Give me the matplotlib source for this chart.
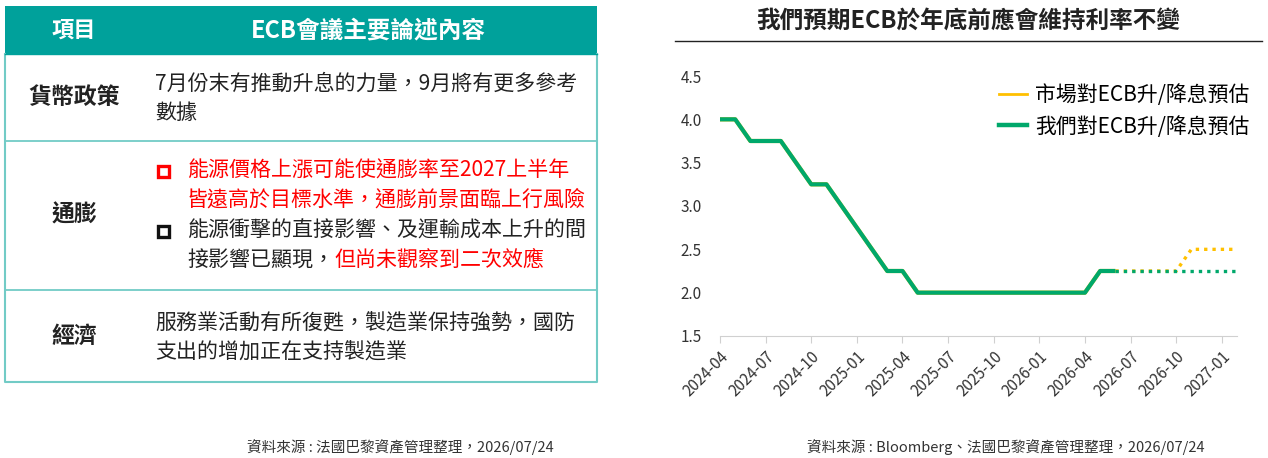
import matplotlib
matplotlib.use("Agg")
import matplotlib.pyplot as plt
from matplotlib.patches import Rectangle
from matplotlib.lines import Line2D

plt.rcParams['font.family'] = ['Noto Sans CJK TC', 'DejaVu Sans']

# ---- data ----
months = ['2024-04', '2024-05', '2024-06', '2024-07', '2024-08', '2024-09',
          '2024-10', '2024-11', '2024-12', '2025-01', '2025-02', '2025-03',
          '2025-04', '2025-05', '2025-06', '2025-07', '2025-08', '2025-09',
          '2025-10', '2025-11', '2025-12', '2026-01', '2026-02', '2026-03',
          '2026-04', '2026-05', '2026-06', '2026-07', '2026-08', '2026-09',
          '2026-10', '2026-11', '2026-12', '2027-01', '2027-02']
actual_rate = [4.0, 4.0, 3.75, 3.75, 3.75, 3.5, 3.25, 3.25, 3.0, 2.75, 2.5,
               2.25, 2.25, 2.0, 2.0, 2.0, 2.0, 2.0, 2.0, 2.0, 2.0, 2.0, 2.0,
               2.0, 2.0, 2.25, 2.25]
market_fcst = [2.25, 2.25, 2.25, 2.25, 2.25, 2.5, 2.5, 2.5, 2.5]
our_fcst = [2.25, 2.25, 2.25, 2.25, 2.25, 2.25, 2.25, 2.25, 2.25]
tick_labels = months[::3]

table_header = ['項目', 'ECB會議主要論述內容']
row_labels = ['貨幣政策', '通膨', '經濟']
row1_lines = ['7月份末有推動升息的力量，9月將有更多參考', '數據']
row2_red = ['能源價格上漲可能使通膨率至2027上半年', '皆遠高於目標水準，通膨前景面臨上行風險']
row2_black = ['能源衝擊的直接影響、及運輸成本上升的間', '接影響已顯現，']
row2_red_tail = '但尚未觀察到二次效應'
row3_lines = ['服務業活動有所復甦，製造業保持強勢，國防', '支出的增加正在支持製造業']

GREEN = '#00A86B'
YELLOW = '#FFC000'
TEAL = '#00A19B'
LINE_TEAL = '#72CBC6'
RED = '#FF0000'
TXT = '#222222'

W, H = 1268, 458
fig = plt.figure(figsize=(W / 100, H / 100), dpi=100)

# ---- chart ----
x_all = list(range(len(months)))
n_act = len(actual_rate)
x_act = x_all[:n_act]
x_fc = x_all[n_act - 1:n_act - 1 + len(our_fcst)]

ax = fig.add_axes([720 / W, 1 - 336 / H, (1237 - 720) / W, (336 - 76) / H])
ax.plot(x_act, actual_rate, color=YELLOW, lw=3, solid_capstyle='butt', zorder=2)
ax.plot(x_fc, market_fcst, color=YELLOW, lw=2.4, ls=(0, (1, 1.5)), zorder=2)
ax.plot(x_act, actual_rate, color=GREEN, lw=3, solid_capstyle='butt', zorder=3)
ax.plot(x_fc, our_fcst, color=GREEN, lw=2.4, ls=(0, (1, 1.5)), zorder=3)

ax.set_xlim(0, len(months) - 1)
ax.set_ylim(1.5, 4.5)
ax.set_yticks([1.5, 2.0, 2.5, 3.0, 3.5, 4.0, 4.5])
ax.set_yticklabels([f'{v:.1f}' for v in ax.get_yticks()])
ax.set_xticks(x_all[::3])
ax.set_xticklabels(tick_labels, rotation=45, ha='right', rotation_mode='anchor')
ax.tick_params(axis='x', length=5, color='#D0D0D0', labelsize=11, labelcolor='#333333', pad=4)
ax.tick_params(axis='y', length=0, labelsize=11, labelcolor='#333333', pad=13)
for s in ['top', 'right', 'left']:
    ax.spines[s].set_visible(False)
ax.spines['bottom'].set_color('#D0D0D0')

handles = [Line2D([], [], color=YELLOW, lw=2),
           Line2D([], [], color=GREEN, lw=3.2)]
ax.legend(handles, ['市場對ECB升/降息預估', '我們對ECB升/降息預估'],
          loc='upper right', bbox_to_anchor=(1.06, 1.04), frameon=False,
          fontsize=15, handlelength=1.3, handletextpad=0.4, labelspacing=0.45)

# ---- overlay for table, title and notes (pixel coords) ----
ov = fig.add_axes([0, 0, 1, 1], zorder=-1)
ov.set_xlim(0, W)
ov.set_ylim(H, 0)
ov.axis('off')

ov.text(968, 22, '我們預期ECB於年底前應會維持利率不變', ha='center', va='center',
        fontsize=17, fontweight='bold', color=TXT)
ov.plot([675, 1262], [41, 41], color='#222222', lw=1)

# table
left, right, top = 4.5, 596.5, 5.5
y_head, y_r1, y_r2, y_bot = 54, 141, 290, 382
ov.add_patch(Rectangle((left, top), right - left, y_head - top, color=TEAL, lw=0))
for yy in [y_r1, y_r2]:
    ov.plot([left, right], [yy, yy], color=LINE_TEAL, lw=1.3)
ov.plot([left, left, right, right], [y_head, y_bot, y_bot, y_head], color=LINE_TEAL, lw=1.5)
ov.plot([left, right], [y_head, y_head], color=TEAL, lw=1)

ov.text(74, 30, table_header[0], ha='center', va='center', fontsize=16,
        fontweight='bold', color='white')
ov.text(368, 30, table_header[1], ha='center', va='center', fontsize=17,
        fontweight='bold', color='white')

label_y = [98, 215, 336]
for lab, yy in zip(row_labels, label_y):
    ov.text(74, yy, lab, ha='center', va='center', fontsize=16.5, fontweight='bold', color=TXT)

fs = 15.1
for i, line in enumerate(row1_lines):
    ov.text(155, 84 + 29 * i, line, ha='left', va='center', fontsize=fs, color=TXT)

for i, line in enumerate(row2_red):
    ov.text(187, 171 + 29 * i, line, ha='left', va='center', fontsize=fs, color=RED)
ov.text(187, 231, row2_black[0], ha='left', va='center', fontsize=fs, color=TXT)
t_last = ov.text(187, 260, row2_black[1], ha='left', va='center', fontsize=fs, color=TXT)
ov.annotate(row2_red_tail, xy=(1, 0), xycoords=t_last, ha='left', va='bottom',
            fontsize=fs, color=RED)
ov.add_patch(Rectangle((157.5, 165.5), 11, 11, fill=False, ec=RED, lw=2.4))
ov.add_patch(Rectangle((157.5, 225.5), 11, 11, fill=False, ec='#111111', lw=2.4))

for i, line in enumerate(row3_lines):
    ov.text(155, 324 + 29 * i, line, ha='left', va='center', fontsize=fs, color=TXT)

# sources
ov.text(400, 447, '資料來源 : 法國巴黎資產管理整理，2026/07/24', ha='center', va='center',
        fontsize=10.5, color='#333333')
ov.text(1006, 447, '資料來源 : Bloomberg、法國巴黎資產管理整理，2026/07/24', ha='center',
        va='center', fontsize=10.5, color='#333333')

fig.savefig('out.png', dpi=100)
